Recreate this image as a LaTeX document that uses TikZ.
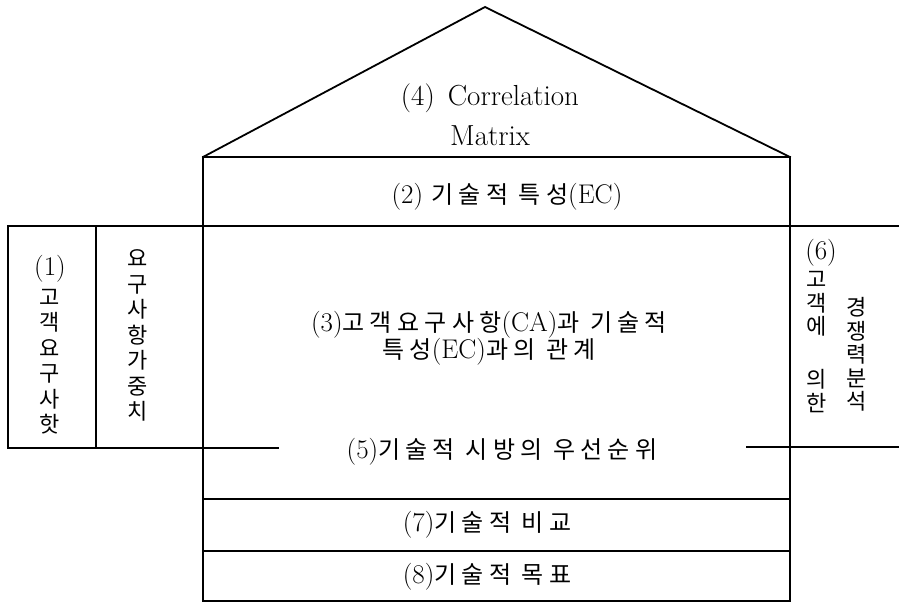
\documentclass[tikz,border=0pt]{standalone}
\usepackage{fontspec}
\newfontfamily\kr{Noto Sans CJK KR}
\newfontfamily\krw[LetterSpace=22]{Noto Sans CJK KR}
\newcommand\hk[1]{{\krw\fontsize{24}{28}\selectfont #1}}
\begin{document}
\begin{tikzpicture}[x=1pt,y=-1pt,
  ln/.style={line width=1.8pt, line cap=rect},
  lbl/.style={inner sep=0pt, font=\fontsize{29}{40}\selectfont, align=center},
  vcolA/.style={inner sep=0pt, align=center, font=\kr\fontsize{22}{25.5}\selectfont},
  vcolB/.style={inner sep=0pt, align=center, font=\kr\fontsize{22}{23.5}\selectfont},
  num/.style={inner sep=0pt, font=\fontsize{27}{28}\selectfont}]
\useasboundingbox (0,0) rectangle (899,603);
% corners
\coordinate (rl) at (203,157);
\coordinate (apex) at (485,7);
\coordinate (rr) at (790,157);
\coordinate (bl) at (203,601);
\coordinate (br) at (790,601);
% roof and main frame
\draw[ln] (rl) -- (apex) -- (rr);
\draw[ln] (rl) rectangle (br);
% long horizontal line
\coordinate (hl) at (8,226);
\coordinate (hr) at (899,226);
\draw[ln] (hl) -- (hr);
% left box
\coordinate (lb1) at (8,448);
\coordinate (lb2) at (278,448);
\draw[ln] (hl) -- (lb1) -- (lb2);
\coordinate (dv1) at (96,226);
\coordinate (dv2) at (96,448);
\draw[ln] (dv1) -- (dv2);
% right line
\coordinate (rb1) at (747,447);
\coordinate (rb2) at (899,447);
\draw[ln] (rb1) -- (rb2);
% bottom rows
\coordinate (r7l) at (203,499);
\coordinate (r7r) at (790,499);
\coordinate (r8l) at (203,551);
\coordinate (r8r) at (790,551);
\draw[ln] (r7l) -- (r7r);
\draw[ln] (r8l) -- (r8r);
% texts
\node[lbl] (corr) at (490,115) {(4)\hspace{0.45em}Correlation\\Matrix};
\node[num] (ec) at (507,197) {(2) \hk{기술적 특성}(EC)};
\node[num,align=center,font=\fontsize{27}{27}\selectfont] (rel) at (489,338) {(3)\hk{고객요구사항}(CA)\hk{과 기술적}\\\hk{특성}(EC)\hk{과의 관계}};
\node[num] (pri) at (502,452) {(5)\hk{기술적 시방의 우선순위}};
\node[num] (cmp) at (487,525) {(7)\hk{기술적 비교}};
\node[num] (tgt) at (487,577) {(8)\hk{기술적 목표}};
% left columns
\node[num] (n1) at (50,269) {(1)};
\node[vcolA] (ca) at (50,361.5) {고\\객\\요\\구\\사\\핫};
\node[vcolA] (wt) at (138,335.5) {요\\구\\사\\항\\가\\중\\치};
% right columns
\node[num] (n6) at (821,253) {(6)};
\node[vcolB] (c6a) at (817,304) {고\\객\\에};
\node[vcolB] (c6b) at (817,391) {의\\한};
\node[vcolB] (c6c) at (857,354.5) {경\\쟁\\력\\분\\석};
\end{tikzpicture}
\end{document}
